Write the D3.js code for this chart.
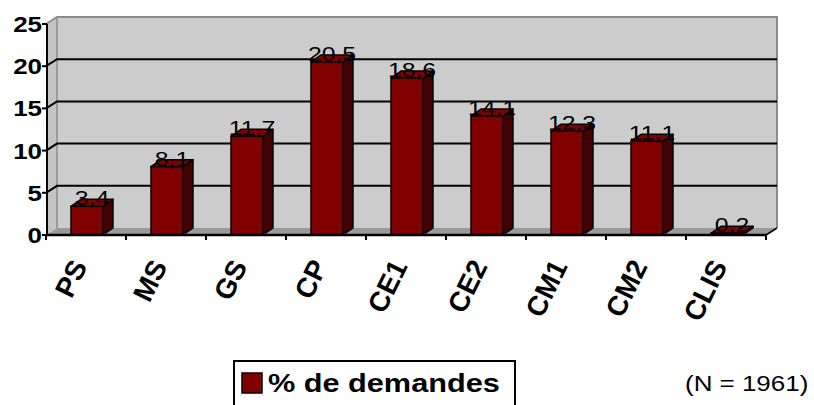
<!DOCTYPE html>
<html><head><meta charset="utf-8">
<script src="https://cdn.jsdelivr.net/npm/d3@7"></script>
<style>
html,body{margin:0;padding:0;background:#fff;}
svg{display:block;font-family:"Liberation Sans",Arial,sans-serif;}
</style></head>
<body>
<svg id="chart" width="814" height="405"></svg>
<script>
const categories = ["PS","MS","GS","CP","CE1","CE2","CM1","CM2","CLIS"];
const values = [3.4, 8.1, 11.7, 20.5, 18.6, 14.1, 12.3, 11.1, 0.2];
const valueLabels = ["3,4","8,1","11,7","20,5","18,6","14,1","12,3","11,1","0,2"];
const yTicks = [0,5,10,15,20,25];
const seriesName = "% de demandes";
const note = "(N = 1961)";

const svg = d3.select("#chart");
const SX = 1.18; // horizontal stretch of the original text
const x0 = 46, x1 = 766, yBottom = 235, yTop = 24;
const DX = 11, DY = -7;     // wall depth
const BDX = 10, BDY = -7;   // bar depth

const x = d3.scaleBand().domain(categories).range([x0, x1]).padding(0);
const y = d3.scaleLinear().domain([0, 25]).range([yBottom, yTop]);
const bw = x.bandwidth();

function txt(g, xx, yy, s, opts) {
  const sx = opts.sx === undefined ? SX : opts.sx;
  const t = g.append("text")
    .attr("transform", `translate(${xx},${yy})` + (opts.rot ? ` rotate(${opts.rot})` : "") + ` scale(${sx},1)`)
    .attr("font-size", opts.size)
    .attr("font-weight", opts.bold ? "bold" : "normal")
    .attr("text-anchor", opts.anchor || "start")
    .attr("fill", "#000")
    .text(s);
  return t;
}

// back wall
const wall = svg.append("g");
wall.append("rect").attr("x", x0 + DX).attr("y", yTop + DY)
  .attr("width", (x1 - x0)).attr("height", yBottom - yTop)
  .attr("fill", "#cccccc");
wall.append("path")
  .attr("d", `M${x0},${yTop}L${x0+DX},${yTop+DY}L${x0+DX},${yBottom+DY}L${x0},${yBottom}Z`)
  .attr("fill", "#c4c4c4");
wall.append("path")
  .attr("d", `M${x0},${yBottom}L${x0+DX},${yBottom+DY}L${x1+DX},${yBottom+DY}L${x1},${yBottom}Z`)
  .attr("fill", "#9a9a9a");
wall.append("path")
  .attr("d", `M${x0},${yTop}L${x0+DX},${yTop+DY}L${x1+DX},${yTop+DY}L${x1+DX},${yBottom+DY}`)
  .attr("fill", "none").attr("stroke", "#8c8c8c").attr("stroke-width", 2);
wall.append("line").attr("x1", x0+DX).attr("x2", x0+DX).attr("y1", yTop+DY).attr("y2", yBottom+DY)
  .attr("stroke", "#8c8c8c").attr("stroke-width", 1.5);

yTicks.filter(v => v > 0 && v < 25).forEach(v => {
  wall.append("path")
    .attr("d", `M${x0},${y(v)}L${x0+DX},${y(v)+DY}L${x1+DX},${y(v)+DY}`)
    .attr("fill", "none").attr("stroke", "#000").attr("stroke-width", 2);
});

// bars
const bars = svg.append("g");
categories.forEach((c, i) => {
  const bx = x(c) + bw * 0.3125, bwid = bw * 0.4;
  const yt = y(values[i]), yb = y(0);
  bars.append("path")
    .attr("d", `M${bx+bwid},${yb}L${bx+bwid+BDX},${yb+BDY}L${bx+bwid+BDX},${yt+BDY}L${bx+bwid},${yt}Z`)
    .attr("fill", "#420000").attr("stroke", "#000").attr("stroke-width", 1.5).attr("stroke-linejoin", "round");
  bars.append("path")
    .attr("d", `M${bx},${yt}L${bx+BDX},${yt+BDY}L${bx+bwid+BDX},${yt+BDY}L${bx+bwid},${yt}Z`)
    .attr("fill", "#800000").attr("stroke", "#000").attr("stroke-width", 1.5).attr("stroke-linejoin", "round");
  bars.append("rect").attr("x", bx).attr("y", yt).attr("width", bwid).attr("height", yb - yt)
    .attr("fill", "#800000").attr("stroke", "#000").attr("stroke-width", 1.5);
});

svg.append("line").attr("x1", x1).attr("y1", yBottom).attr("x2", x1+DX).attr("y2", yBottom+DY)
  .attr("stroke", "#000").attr("stroke-width", 1.5);

// axes
const axG = svg.append("g");
axG.append("line").attr("x1", x0+1).attr("x2", x0+1).attr("y1", yTop).attr("y2", yBottom+1)
  .attr("stroke", "#000").attr("stroke-width", 2);
axG.append("line").attr("x1", x0).attr("x2", x1).attr("y1", yBottom).attr("y2", yBottom)
  .attr("stroke", "#000").attr("stroke-width", 2.5);
yTicks.forEach(v => {
  axG.append("line").attr("x1", x0-4).attr("x2", x0+1).attr("y1", y(v)).attr("y2", y(v))
    .attr("stroke", "#000").attr("stroke-width", 2);
  txt(axG, x0 - 4, y(v) + 8, String(v), {size: 22, bold: true, anchor: "end"});
});
categories.concat(["_end"]).forEach((c, i) => {
  const xx = x0 + i * bw;
  axG.append("line").attr("x1", xx).attr("x2", xx).attr("y1", yBottom).attr("y2", yBottom + 5)
    .attr("stroke", "#000").attr("stroke-width", 2);
});
categories.forEach(c => {
  txt(axG, x(c) + bw/2 + 2, 266, c, {size: 28, bold: true, anchor: "end", rot: -64, sx: 1.0});
});

// value labels
const lab = svg.append("g");
categories.forEach((c, i) => {
  const cx = x(c) + bw * 0.3125 + bw * 0.2 + 5;
  txt(lab, cx, y(values[i]) - 1, valueLabels[i], {size: 21, anchor: "middle"});
});

// legend
const leg = svg.append("g");
leg.append("rect").attr("x", 234).attr("y", 361).attr("width", 281).attr("height", 60)
  .attr("fill", "#fff").attr("stroke", "#000").attr("stroke-width", 2);
leg.append("rect").attr("x", 242).attr("y", 373).attr("width", 20).attr("height", 20)
  .attr("fill", "#800000").attr("stroke", "#000").attr("stroke-width", 1.5);
txt(leg, 268, 392, seriesName, {size: 26, bold: true});

txt(svg, 685, 391, note, {size: 22});
</script>
</body></html>
